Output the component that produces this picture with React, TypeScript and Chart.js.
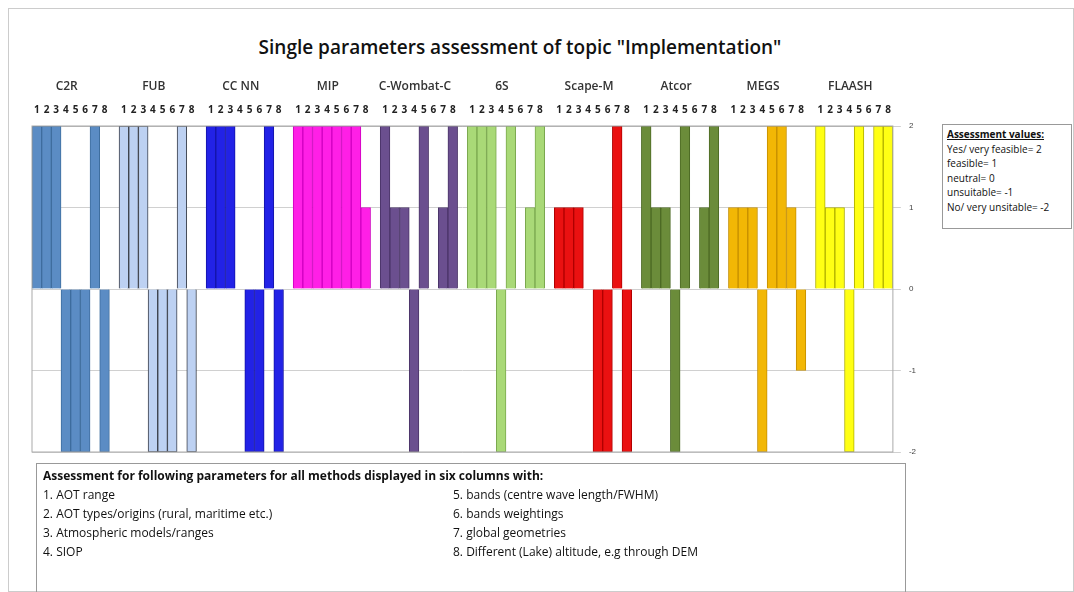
import { useEffect, useRef } from 'react';
import Chart from 'chart.js/auto';

const methods = ['C2R', 'FUB', 'CC NN', 'MIP', 'C-Wombat-C', '6S', 'Scape-M', 'Atcor', 'MEGS', 'FLAASH'];
const paramLabels = ['1', '2', '3', '4', '5', '6', '7', '8'];

const c2r = [2, 2, 2, -2, -2, -2, 2, -2];
const fub = [2, 2, 2, -2, -2, -2, 2, -2];
const ccnn = [2, 2, 2, 0, -2, -2, 2, -2];
const mip = [2, 2, 2, 2, 2, 2, 2, 1];
const wombat = [2, 1, 1, -2, 2, 0, 1, 2];
const sixS = [2, 2, 2, -2, 2, 0, 1, 2];
const scapeM = [1, 1, 1, 0, -2, -2, 2, -2];
const atcor = [2, 1, 1, -2, 2, 0, 1, 2];
const megs = [1, 1, 1, -2, 2, 2, 1, -1];
const flaash = [2, 1, 1, -2, 2, 0, 2, 2];
const seriesByMethod = [c2r, fub, ccnn, mip, wombat, sixS, scapeM, atcor, megs, flaash];

const yTicks = [-2, -1, 0, 1, 2];

const fills = ['#5b8cc4', '#bdd1f2', '#2222e6', '#ff1fe6', '#6b4f8f', '#a9d977', '#ea1111', '#6b8c3a', '#f2b705', '#ffff14'];
const edges = ['#3e6d9e', '#3a3f4a', '#1414a8', '#d000c0', '#4a3468', '#7aa84e', '#b00000', '#4c6a24', '#c58f00', '#b0b000'];

export default function App() {
  const chartRef = useRef<HTMLCanvasElement>(null);
  const chartInstance = useRef<Chart | null>(null);

  useEffect(() => {
    if (!chartRef.current) return;
    if (chartInstance.current) chartInstance.current.destroy();

    const labels: string[] = [];
    const values: (number | null)[] = [];
    const bg: string[] = [];
    const bd: string[] = [];
    const groupStart: number[] = [];
    seriesByMethod.forEach((s, m) => {
      groupStart.push(labels.length);
      s.forEach((v, i) => {
        labels.push(paramLabels[i]);
        values.push(v);
        bg.push(fills[m]);
        bd.push(edges[m]);
      });
      if (m < seriesByMethod.length - 1) {
        labels.push('');
        values.push(null);
        bg.push('transparent');
        bd.push('transparent');
      }
    });

    const methodNames = {
      id: 'methodNames',
      afterDraw(chart: any) {
        const x = chart.scales.x;
        const y = chart.scales.y;
        const ctx = chart.ctx;
        ctx.save();
        ctx.font = '600 12px "Open Sans", sans-serif';
        ctx.fillStyle = '#333';
        ctx.textAlign = 'center';
        methods.forEach((name, m) => {
          const a = x.getPixelForValue(groupStart[m]);
          const b = x.getPixelForValue(groupStart[m] + 7);
          ctx.fillText(name, (a + b) / 2 - 4, 90);
        });
        // frame round the plot
        ctx.strokeStyle = '#aaa';
        ctx.lineWidth = 1;
        ctx.strokeRect(x.left, y.top, x.right - x.left, y.bottom - y.top);
        ctx.restore();
      },
    };

    chartInstance.current = new Chart(chartRef.current, {
      type: 'bar',
      data: {
        labels,
        datasets: [{ data: values, backgroundColor: bg, borderColor: bd, borderWidth: 1, barPercentage: 1, categoryPercentage: 1 }],
      },
      options: {
        animation: false,
        responsive: false,
        layout: { padding: { top: 102, left: 32, right: 150, bottom: 140 } },
        plugins: { legend: { display: false }, tooltip: { enabled: false } },
        scales: {
          x: {
            position: 'top',
            grid: { display: false },
            border: { color: '#bbb' },
            ticks: { autoSkip: false, maxRotation: 0, padding: 2, color: '#222', font: { size: 10, weight: 'bold', family: '"Open Sans", sans-serif' } },
          },
          y: {
            position: 'right',
            min: -2,
            max: 2,
            afterBuildTicks: (axis: any) => { axis.ticks = yTicks.map((v) => ({ value: v })); },
            grid: { color: '#d0d0d0' },
            border: { display: false },
            ticks: { color: '#444', font: { size: 8 }, padding: 8 },
          },
        },
      },
      plugins: [methodNames],
    });

    return () => {
      if (chartInstance.current) chartInstance.current.destroy();
    };
  }, []);

  const sans = '"Open Sans", "Liberation Sans", sans-serif';
  return (
    <div style={{ position: 'absolute', left: 0, top: 0, width: 1074, height: 592, background: '#fff', fontFamily: sans, overflow: 'hidden' }}>
      <div style={{ position: 'absolute', left: 8, top: 8, right: 0, bottom: 0, border: '1px solid #ccc' }} />
      <div style={{ position: 'absolute', left: 0, width: 1040, top: 34, textAlign: 'center', fontSize: 19, fontWeight: 600, color: '#111' }}>
        Single parameters assessment of topic "Implementation"
      </div>
      <canvas ref={chartRef} width={1074} height={592} style={{ position: 'absolute', left: 0, top: 0 }} />
      <div style={{ position: 'absolute', left: 942, top: 124, width: 130, height: 105, border: '1px solid #999', fontSize: 10, lineHeight: '14.5px', padding: '2px 4px', boxSizing: 'border-box', color: '#111', background: '#fff' }}>
        <div style={{ fontWeight: 'bold', textDecoration: 'underline' }}>Assessment values:</div>
        <div>Yes/ very feasible= 2</div>
        <div>feasible= 1</div>
        <div>neutral= 0</div>
        <div>unsuitable= -1</div>
        <div>No/ very unsitable= -2</div>
      </div>
      <div style={{ position: 'absolute', left: 36, top: 463, width: 870, height: 140, border: '1px solid #999', fontSize: 12, lineHeight: '19px', padding: '2px 6px', boxSizing: 'border-box', color: '#111' }}>
        <div style={{ fontWeight: 'bold' }}>Assessment for following parameters for all methods displayed in six columns with:</div>
        <div style={{ display: 'flex' }}>
          <div style={{ width: 410 }}>
            <div>1. AOT range</div>
            <div>2. AOT types/origins (rural, maritime etc.)</div>
            <div>3. Atmospheric models/ranges</div>
            <div>4. SIOP</div>
          </div>
          <div>
            <div>5. bands (centre wave length/FWHM)</div>
            <div>6. bands weightings</div>
            <div>7. global geometries</div>
            <div>8. Different (Lake) altitude, e.g through DEM</div>
          </div>
        </div>
      </div>
    </div>
  );
}
